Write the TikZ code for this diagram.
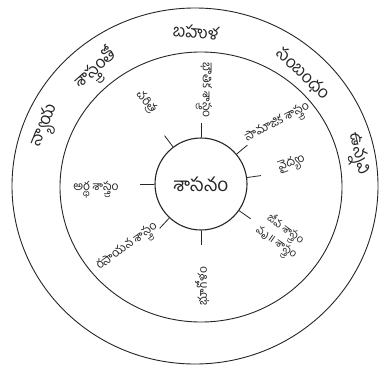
\documentclass[tikz,border=0pt]{standalone}
\usepackage{fontspec}
\usetikzlibrary{calc}
\newfontfamily\tel[Script=Telugu]{Hind Guntur}
\newfontfamily\deva[Script=Devanagari]{Noto Sans}
\begin{document}
\begin{tikzpicture}[x=1pt,y=1pt,
  lbl/.style={font=\tel\fontsize{12}{13}\selectfont, inner sep=0pt, text=black!85},
  big/.style={font=\tel\fontsize{17}{18}\selectfont, inner sep=0pt, text=black!85},
  ringline/.style={draw=black!85, line width=0.9pt},
  spokeline/.style={draw=black!85, line width=0.8pt}]
\useasboundingbox (0,0) rectangle (387,370);
\fill[white] (0,0) rectangle (387,370);
% rings
\draw[ringline] (195,184) ellipse [x radius=183, y radius=178];
\draw[ringline] (201,183) ellipse [x radius=141, y radius=135];
% centre
\node[circle, draw=black!85, line width=1.1pt, minimum size=92pt, inner sep=0pt,
      font=\tel\fontsize{19}{21}\selectfont, text=black!85] (c) at (201,186) {శాసనం};
% spokes
\foreach \a/\n in {180/s1,127/s2,90/s3,40/s4,8/s5,-35/s6,-90/s7,-133/s8}{
  \coordinate (\n) at ($(c.\a)+(\a:14)$);
  \draw[spokeline] (c.\a) -- (\n);
}
% labels
\node[lbl, rotate=-50] (l1) at (146,268) {చరిత్ర};
\node[lbl, rotate=-90] (l2) at (204,280) {భౌతిక శాస్త్రం};
\node[lbl, rotate=28] (l3) at (278,246) {సామాజిక శాస్త్రం};
\node[lbl, rotate=20] (l4) at (292,206) {వైద్యం};
\node[lbl, rotate=-35, align=center, font=\tel\fontsize{11}{12}\selectfont] (l5) at (280,133) {జీవ శాస్త్రం\\వృ{\deva ॥} శాస్త్రం};
\node[lbl, rotate=90] (l6) at (202,84) {భూగోళం};
\node[lbl, rotate=36] (l7) at (128,122) {రసాయన శాస్త్రం};
\node[lbl] (l8) at (96,180) {అర్థ శాస్త్రం};
% outer ring text
\node[big, rotate=68] (o1) at (46,244) {న్యాయ};
\node[big, rotate=42] (o2) at (97,300) {శాస్త్రంతో};
\node[big, rotate=-4] (o3) at (196,338) {బహుళ};
\node[big, rotate=-43] (o4) at (303,296) {సంబంధం};
\node[big, rotate=-77] (o5) at (357,216) {ఉన్నవి};
\end{tikzpicture}
\end{document}
